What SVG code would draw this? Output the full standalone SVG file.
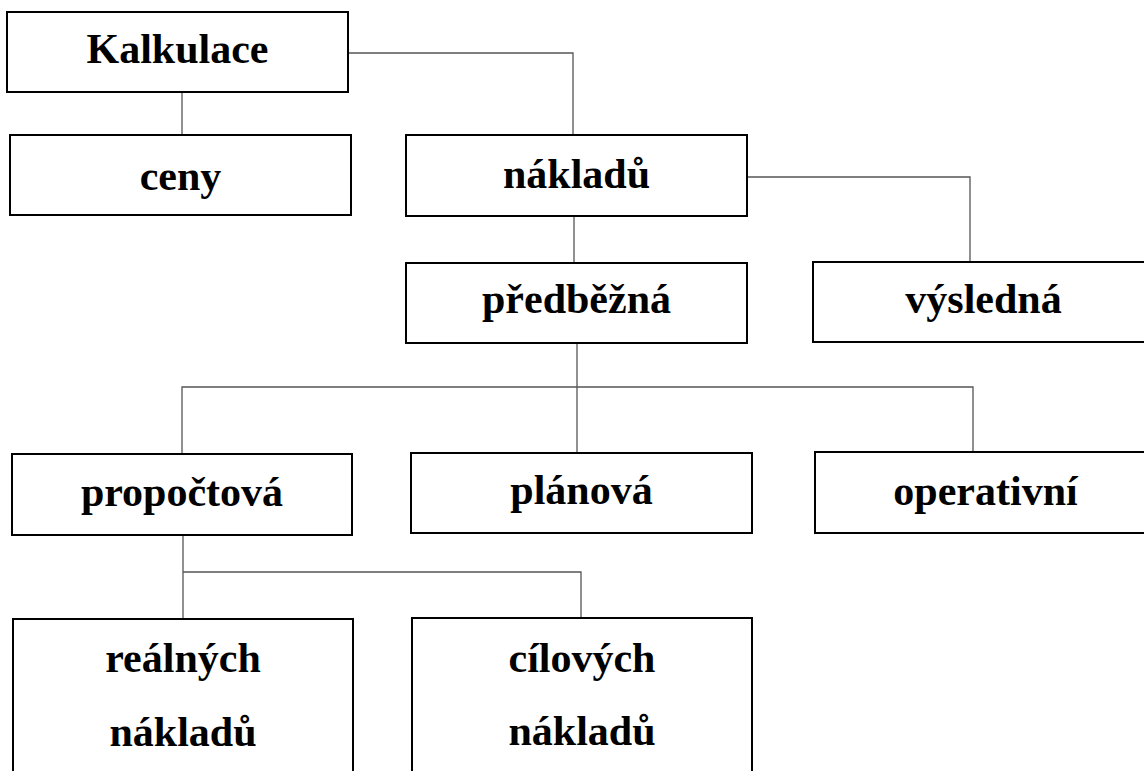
<svg xmlns="http://www.w3.org/2000/svg" width="1144" height="771" viewBox="0 0 1144 771">
<style>
.box{fill:#fff;stroke:#000;stroke-width:2}
.lbl{font-family:"Liberation Serif","Times New Roman",serif;font-weight:bold;font-size:42px;fill:#000;text-anchor:middle}
.con{fill:none;stroke:#555;stroke-width:1.3}
</style>
<rect width="1144" height="771" fill="#fff"/>
<g id="connectors">
<polyline class="con" points="349,53 573,53 573,135"/>
<polyline class="con" points="182,92 182,135"/>
<polyline class="con" points="748,177 970,177 970,262"/>
<polyline class="con" points="574,216 574,263"/>
<polyline class="con" points="577,344 577,453"/>
<polyline class="con" points="182,454 182,387 973,387 973,452"/>
<polyline class="con" points="183,536 183,619"/>
<polyline class="con" points="183,572 581,572 581,618"/>
</g>
<g id="kalkulace"><rect class="box" x="7" y="12" width="341" height="80"/><text class="lbl" x="177.5" y="63">Kalkulace</text></g>
<g id="ceny"><rect class="box" x="10" y="135" width="341" height="80"/><text class="lbl" x="180.5" y="190">ceny</text></g>
<g id="nakladu"><rect class="box" x="406" y="135" width="341" height="81"/><text class="lbl" x="576.5" y="188">nákladů</text></g>
<g id="predbezna"><rect class="box" x="406" y="263" width="341" height="80"/><text class="lbl" x="576.5" y="313">předběžná</text></g>
<g id="vysledna"><rect class="box" x="813" y="262" width="341" height="80"/><text class="lbl" x="983.5" y="313">výsledná</text></g>
<g id="propoctova"><rect class="box" x="12" y="454" width="340" height="81"/><text class="lbl" x="182" y="506">propočtová</text></g>
<g id="planova"><rect class="box" x="411" y="453" width="341" height="80"/><text class="lbl" x="581.5" y="504">plánová</text></g>
<g id="operativni"><rect class="box" x="815" y="452" width="341" height="81"/><text class="lbl" x="985.5" y="505">operativní</text></g>
<g id="realnych"><rect class="box" x="13" y="619" width="340" height="170"/><text class="lbl" x="183" y="672">reálných</text><text class="lbl" x="183" y="746">nákladů</text></g>
<g id="cilovych"><rect class="box" x="412" y="618" width="340" height="170"/><text class="lbl" x="582" y="672">cílových</text><text class="lbl" x="582" y="745">nákladů</text></g>
</svg>
